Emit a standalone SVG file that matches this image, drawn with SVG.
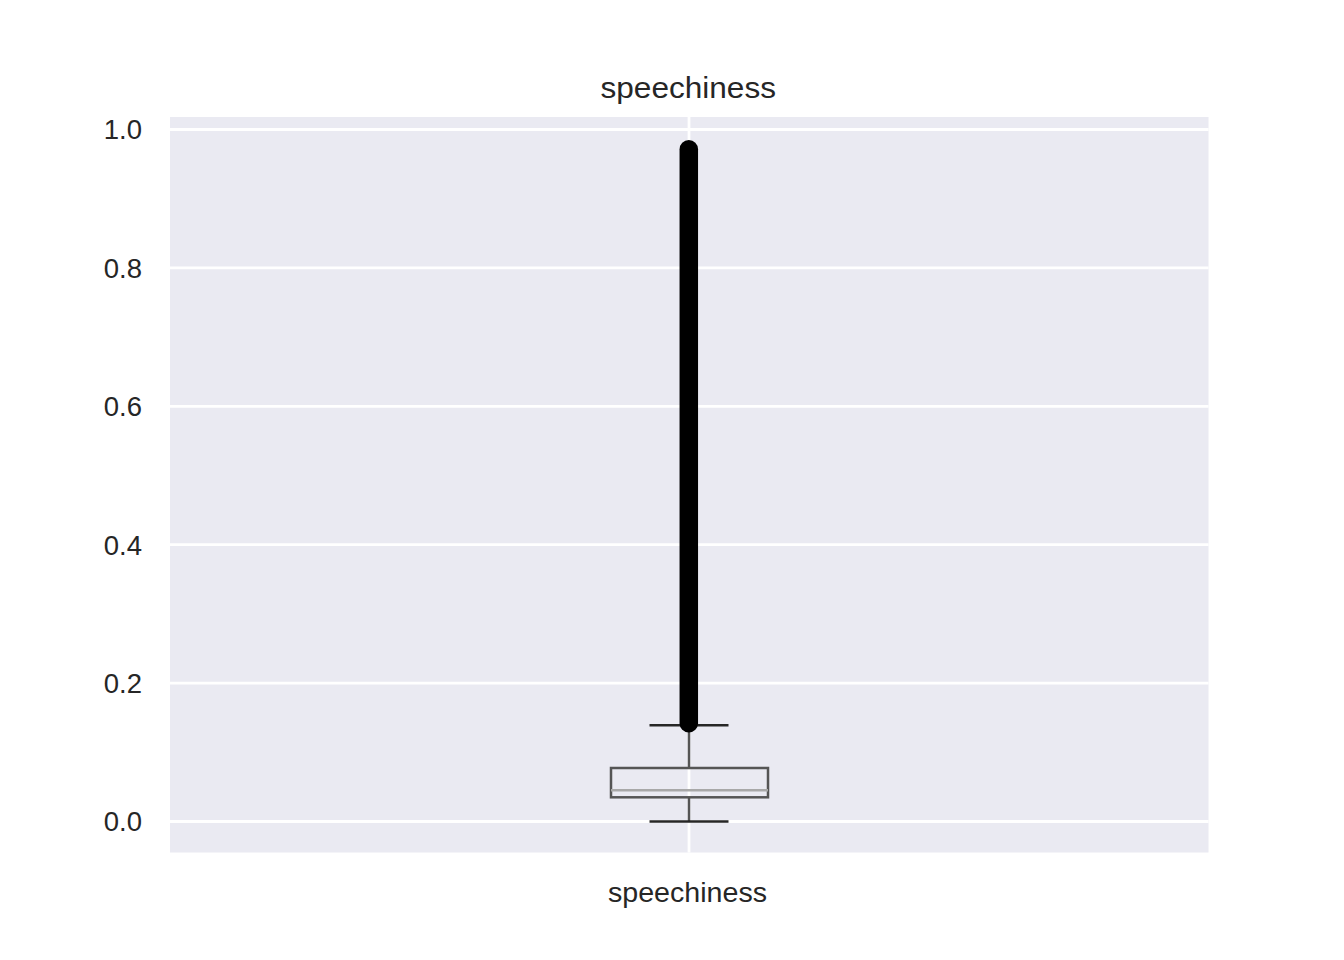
<svg xmlns="http://www.w3.org/2000/svg" width="1344" height="960" viewBox="0 0 1344 960">
<style>
.grid{stroke:#ffffff;stroke-width:2.8;fill:none}
.tick{font-family:"Liberation Sans",Arial,sans-serif;font-size:27.5px;fill:#262626}
.title{font-family:"Liberation Sans",Arial,sans-serif;font-size:29.5px;fill:#262626}
.whisker{stroke:#555555;stroke-width:2.5;fill:none}
.cap{stroke:#262626;stroke-width:2.5;fill:none}
.box{stroke:#555555;stroke-width:2.5;fill:none}
.median{stroke:#a8a8a8;stroke-width:2.5;fill:none}
</style>
<rect x="0" y="0" width="1344" height="960" fill="#ffffff"/>
<g id="axes">
<rect x="170" y="117" width="1038.5" height="735.5" fill="#eaeaf2"/>
<g id="gridlines">
<line class="grid" x1="170" y1="129.5" x2="1208.5" y2="129.5"/>
<line class="grid" x1="170" y1="267.9" x2="1208.5" y2="267.9"/>
<line class="grid" x1="170" y1="406.3" x2="1208.5" y2="406.3"/>
<line class="grid" x1="170" y1="544.7" x2="1208.5" y2="544.7"/>
<line class="grid" x1="170" y1="683.1" x2="1208.5" y2="683.1"/>
<line class="grid" x1="170" y1="821.5" x2="1208.5" y2="821.5"/>
<line class="grid" x1="689" y1="117" x2="689" y2="852.5"/>
</g>
<g id="yticks">
<text class="tick" x="142" y="139.4" text-anchor="end">1.0</text>
<text class="tick" x="142" y="277.8" text-anchor="end">0.8</text>
<text class="tick" x="142" y="416.2" text-anchor="end">0.6</text>
<text class="tick" x="142" y="554.6" text-anchor="end">0.4</text>
<text class="tick" x="142" y="693" text-anchor="end">0.2</text>
<text class="tick" x="142" y="831.4" text-anchor="end">0.0</text>
</g>
<text class="tick" x="608" y="901.5" textLength="159" lengthAdjust="spacingAndGlyphs">speechiness</text>
<text class="title" x="600.5" y="98" textLength="175.5" lengthAdjust="spacingAndGlyphs">speechiness</text>
</g>
<g id="connectors">
<line class="whisker" x1="689" y1="768" x2="689" y2="725.3"/>
<line class="whisker" x1="689" y1="797.3" x2="689" y2="821.5"/>
</g>
<g id="boxplot">
<rect class="box" x="611" y="768" width="157" height="29.3"/>
<line class="median" x1="611" y1="790.3" x2="768" y2="790.3"/>
<line class="cap" x1="649.5" y1="725.3" x2="728.5" y2="725.3"/>
<line class="cap" x1="649.5" y1="821.5" x2="728.5" y2="821.5"/>
</g>
<g id="outliers">
<line x1="688.8" y1="149.2" x2="688.8" y2="723.2" stroke="#000000" stroke-width="18.5" stroke-linecap="round"/>
</g>
</svg>
